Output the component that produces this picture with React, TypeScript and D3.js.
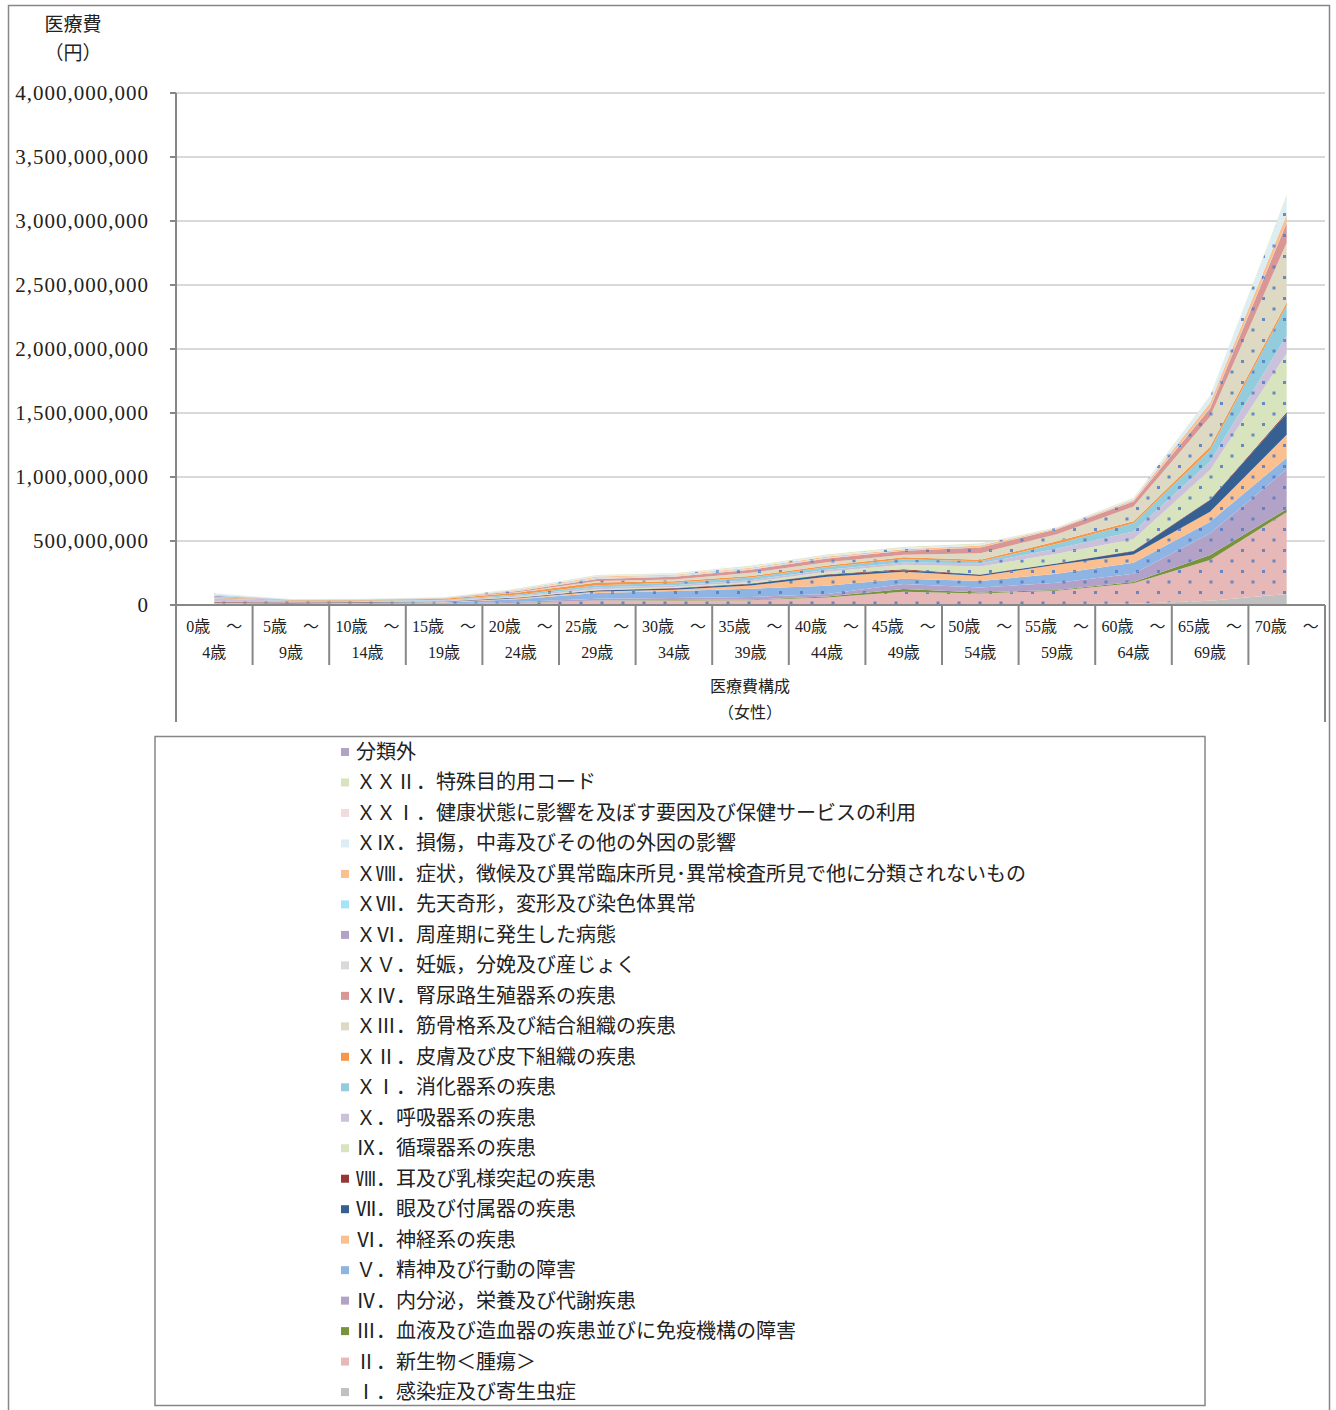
import React from "react";
import * as d3 from "d3";

// Age categories (two-line labels)
const categories = ["0-4", "5-9", "10-14", "15-19", "20-24", "25-29", "30-34", "35-39", "40-44", "45-49", "50-54", "55-59", "60-64", "65-69", "70+"];
const catLine1 = ["0歳　～", "5歳　～", "10歳　～", "15歳　～", "20歳　～", "25歳　～", "30歳　～", "35歳　～", "40歳　～", "45歳　～", "50歳　～", "55歳　～", "60歳　～", "65歳　～", "70歳　～"];
const catLine2 = ["4歳", "9歳", "14歳", "19歳", "24歳", "29歳", "34歳", "39歳", "44歳", "49歳", "54歳", "59歳", "64歳", "69歳", ""];

// Series values in millions of yen (stack order bottom -> top)
const sI = [6, 3, 3, 3, 6, 8, 8, 8, 8, 8, 8, 8, 10, 34, 85];
const sII = [1, 1, 2, 3, 10, 25, 28, 30, 50, 95, 82, 104, 160, 318, 640];
const sIII = [2, 1, 1, 1, 2, 3, 3, 4, 8, 22, 8, 5, 10, 39, 25];
const sIV = [4, 2, 4, 4, 8, 12, 15, 20, 20, 40, 38, 57, 65, 169, 310];
const sV = [1, 2, 5, 8, 20, 45, 55, 65, 65, 40, 52, 70, 85, 91, 90];
const sVI = [3, 2, 3, 4, 8, 12, 10, 25, 70, 55, 38, 70, 65, 78, 180];
const sVII = [3, 4, 4, 3, 5, 8, 10, 12, 15, 12, 10, 10, 25, 91, 165];
const sVIII = [4, 4, 2, 1, 2, 3, 3, 3, 4, 8, 3, 3, 4, 5, 10];
const sIX = [2, 1, 1, 2, 5, 8, 8, 12, 20, 35, 62, 73, 90, 230, 460];
const sX = [25, 12, 7, 8, 8, 15, 15, 15, 15, 18, 25, 39, 60, 65, 140];
const sXI = [4, 3, 3, 4, 10, 15, 18, 20, 22, 25, 15, 39, 65, 91, 235];
const sXII = [6, 4, 5, 8, 15, 22, 12, 12, 12, 15, 12, 20, 15, 26, 26];
const sXIII = [1, 1, 1, 2, 4, 12, 15, 25, 25, 20, 52, 55, 115, 234, 465];
const sXIV = [2, 1, 1, 2, 8, 15, 20, 25, 30, 30, 45, 39, 40, 66, 155];
const sXV = [0, 0, 0, 0, 5, 10, 8, 5, 3, 1, 0, 0, 0, 0, 0];
const sXVI = [8, 0, 0, 0, 0, 0, 0, 0, 0, 0, 0, 0, 0, 0, 0];
const sXVII = [8, 1, 1, 1, 2, 2, 2, 2, 2, 2, 2, 2, 3, 5, 5];
const sXVIII = [3, 1, 2, 2, 5, 8, 7, 8, 10, 10, 12, 5, 10, 39, 60];
const sXIX = [7, 3, 3, 3, 5, 6, 6, 8, 8, 10, 8, 5, 10, 48, 135];
const sXXI = [1, 0, 0, 0, 1, 2, 2, 2, 2, 2, 3, 2, 3, 3, 5];
const sXXII = [0, 0, 1, 1, 3, 3, 4, 5, 5, 5, 5, 2, 2, 3, 10];
const sOther = [0, 0, 0, 0, 0, 0, 0, 0, 0, 0, 0, 0, 0, 0, 0];

const seriesNames = [
  "Ⅰ．感染症及び寄生虫症",
  "Ⅱ．新生物＜腫瘍＞",
  "Ⅲ．血液及び造血器の疾患並びに免疫機構の障害",
  "Ⅳ．内分泌，栄養及び代謝疾患",
  "Ｖ．精神及び行動の障害",
  "Ⅵ．神経系の疾患",
  "Ⅶ．眼及び付属器の疾患",
  "Ⅷ．耳及び乳様突起の疾患",
  "Ⅸ．循環器系の疾患",
  "Ｘ．呼吸器系の疾患",
  "ＸⅠ．消化器系の疾患",
  "ＸⅡ．皮膚及び皮下組織の疾患",
  "ＸⅢ．筋骨格系及び結合組織の疾患",
  "ＸⅣ．腎尿路生殖器系の疾患",
  "ＸＶ．妊娠，分娩及び産じょく",
  "ＸⅥ．周産期に発生した病態",
  "ＸⅦ．先天奇形，変形及び染色体異常",
  "ＸⅧ．症状，徴候及び異常臨床所見･異常検査所見で他に分類されないもの",
  "ＸⅨ．損傷，中毒及びその他の外因の影響",
  "ＸＸⅠ．健康状態に影響を及ぼす要因及び保健サービスの利用",
  "ＸＸⅡ．特殊目的用コード",
  "分類外",
];
const seriesValues = [sI, sII, sIII, sIV, sV, sVI, sVII, sVIII, sIX, sX, sXI, sXII, sXIII, sXIV, sXV, sXVI, sXVII, sXVIII, sXIX, sXXI, sXXII, sOther];
const seriesColors = [
  "#c0c0c0", "#e6b9b8", "#77933c", "#b3a2c7", "#8eb4e3", "#fac090", "#376092", "#953735",
  "#d7e4bd", "#ccc1da", "#93cddd", "#f79646", "#ddd9c3", "#d99694", "#d9d9d9", "#b3a2c7",
  "#a5e4f6", "#fac090", "#dbeef4", "#f2dcdb", "#d7e4bd", "#b3a2c7",
];
const seriesDotted = [false, true, false, true, true, true, false, false, true, true, true, false, true, true, true, true, false, true, true, true, false, true];

const yTicks = [0, 500000000, 1000000000, 1500000000, 2000000000, 2500000000, 3000000000, 3500000000, 4000000000];

const FONT = "'Liberation Serif', 'Noto Sans CJK JP', serif";
const CJK = "'Noto Sans CJK JP', 'Liberation Serif', sans-serif";

export default function App() {
  const W = 1336, H = 1410;
  const left = 176, right = 1325, top = 93, bottom = 605;

  const x = d3.scaleBand<string>().domain(categories).range([left, right]).padding(0);
  const xc = (c: string) => (x(c) as number) + x.bandwidth() / 2;
  const y = d3.scaleLinear().domain([0, 4000000000]).range([bottom, top]);

  const keys = seriesNames.map((_, i) => "k" + i);
  const table = categories.map((c, ci) => {
    const row: any = { cat: c };
    seriesValues.forEach((arr, si) => (row["k" + si] = arr[ci] * 1e6));
    return row;
  });
  const stacked = d3.stack<any>().keys(keys)(table);
  const area = d3
    .area<any>()
    .x((d) => xc(d.data.cat))
    .y0((d) => y(d[0]))
    .y1((d) => y(d[1]));

  const fmt = d3.format(",");
  const boundaries = categories.map((c) => x(c) as number).concat([right]);

  const legendTop = 752;
  const legendStep = 30.48;
  const legendOrder = seriesNames.map((_, i) => i).reverse();

  return (
    <svg width={W} height={H} style={{ position: "absolute", left: 0, top: 0, background: "#fff" }} fontFamily={FONT}>
      <defs>
        {seriesColors.map((col, i) => (
          <pattern key={i} id={"pat" + i} patternUnits="userSpaceOnUse" width={21} height={21}>
            <rect width={21} height={21} fill={col} />
            {seriesDotted[i] && (
              <>
                <rect x={2} y={3} width={3} height={3} fill="#5b80c4" opacity={0.9} />
                <rect x={12.5} y={13.5} width={3} height={3} fill="#5b80c4" opacity={0.9} />
              </>
            )}
          </pattern>
        ))}
      </defs>
      <rect x={0} y={0} width={W} height={H} fill="#fff" />
      {/* chart outer border */}
      <rect x={8.5} y={5.5} width={1321} height={1420} fill="none" stroke="#878787" strokeWidth={1.5} />

      {/* y axis title */}
      <text x={73} y={31} textAnchor="middle" fontSize={19} fontFamily={CJK} fill="#222">医療費</text>
      <text x={73} y={60} textAnchor="middle" fontSize={19} fontFamily={CJK} fill="#222">（円）</text>

      {/* gridlines */}
      {yTicks.slice(1).map((t) => (
        <line key={t} x1={left} x2={right} y1={y(t)} y2={y(t)} stroke="#d9d9d9" strokeWidth={2} />
      ))}

      {/* areas */}
      {stacked.map((s, i) => (
        <path key={i} d={area(s) || ""} fill={`url(#pat${i})`} stroke="none" />
      ))}

      {/* y axis */}
      <line x1={left} x2={left} y1={top} y2={722} stroke="#878787" strokeWidth={2} />
      {yTicks.map((t) => (
        <g key={t}>
          <line x1={left - 6} x2={left} y1={y(t)} y2={y(t)} stroke="#878787" strokeWidth={2} />
          <text x={149} y={y(t) + 7} textAnchor="end" fontSize={21} letterSpacing={1} fill="#222">
            {fmt(t)}
          </text>
        </g>
      ))}

      {/* x axis */}
      <line x1={left} x2={right} y1={bottom} y2={bottom} stroke="#878787" strokeWidth={2} />
      {boundaries.map((b, i) => (
        <line key={i} x1={b} x2={b} y1={bottom} y2={i === 0 || i === boundaries.length - 1 ? 722 : 665} stroke="#878787" strokeWidth={2} />
      ))}
      {categories.map((c, i) => (
        <g key={c} fontSize={16} fill="#222">
          <text x={xc(c)} y={632} textAnchor="middle">{catLine1[i]}</text>
          <text x={xc(c)} y={658} textAnchor="middle">{catLine2[i]}</text>
        </g>
      ))}
      <text x={750} y={692} textAnchor="middle" fontSize={16} fontFamily={CJK} fill="#222">医療費構成</text>
      <text x={750} y={718} textAnchor="middle" fontSize={16} fontFamily={CJK} fill="#222">（女性）</text>

      {/* legend */}
      <rect x={155} y={736.5} width={1050} height={669} fill="#fff" stroke="#878787" strokeWidth={1.5} />
      {legendOrder.map((si, r) => {
        const cy = legendTop + r * legendStep;
        return (
          <g key={si}>
            <rect x={341} y={cy - 4} width={8} height={8} fill={seriesColors[si]} />
            <text x={356} y={cy + 7} fontSize={20} fontFamily={CJK} fill="#222">
              {seriesNames[si]}
            </text>
          </g>
        );
      })}
    </svg>
  );
}
